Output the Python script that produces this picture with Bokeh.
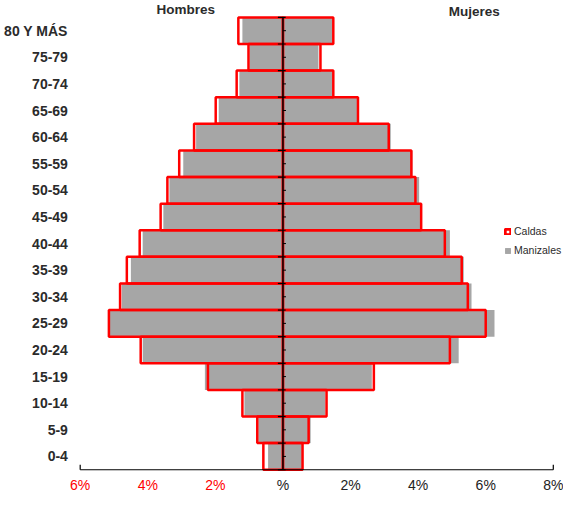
from bokeh.plotting import figure
from bokeh.models import ColumnDataSource, Range1d, Legend, LegendItem
from bokeh.core.properties import value
from bokeh.embed import file_html
from bokeh.resources import INLINE

# ---------------- data ----------------
categories = ["0-4", "5-9", "10-14", "15-19", "20-24", "25-29", "30-34", "35-39",
              "40-44", "45-49", "50-54", "55-59", "60-64", "65-69", "70-74", "75-79",
              "80 Y MÁS"]
caldas_hombres = [0.58, 0.76, 1.20, 2.22, 4.21, 5.15, 4.82, 4.62, 4.24, 3.62, 3.42,
                  3.07, 2.63, 1.99, 1.37, 1.02, 1.32]
manizales_hombres = [0.44, 0.73, 1.14, 2.31, 4.15, 5.18, 4.77, 4.50, 4.15, 3.54, 3.36,
                     2.95, 2.57, 1.90, 1.29, 0.99, 1.20]
caldas_mujeres = [0.58, 0.76, 1.29, 2.69, 4.94, 6.00, 5.47, 5.29, 4.79, 4.09, 3.92,
                  3.80, 3.13, 2.22, 1.49, 1.11, 1.49]
manizales_mujeres = [0.56, 0.82, 1.25, 2.63, 5.20, 6.26, 5.58, 5.35, 4.94, 4.11, 4.03,
                     3.83, 3.19, 2.19, 1.46, 1.05, 1.46]
x_ticks = [-6, -4, -2, 0, 2, 4, 6, 8]
x_tick_labels = ["6%", "4%", "2%", "%", "2%", "4%", "6%", "8%"]
side_titles = ["Hombres", "Mujeres"]
series_names = ["Caldas", "Manizales"]

# ---------------- layout (pixel placement) ----------------
W, H = 563, 494
SX, SY = 0.991, 0.9855          # slight squeeze so everything fits the window


def X(px):                       # reference pixel -> plot pixel (horizontal)
    return (px - 10) * SX + 2


def Y(py):                       # reference pixel -> plot pixel (vertical, from top)
    return (py - 20) * SY + 9


ZERO = X(293)                    # plot pixel of 0 %
PX = 34.1 * SX                   # pixels per 1 %
BASE = Y(487)                    # plot pixel of the bottom of the bars
UNIT = 27 * SY                   # pixels per age group


def dx(px):
    return (px - ZERO) / PX


def dy(py):
    return (BASE - py) / UNIT


GRAY = "#a6a6a6"
RED = "#ff0000"
TEXT = "#2b2b2b"
FONT_NAME = "Liberation Sans"
FONT = value(FONT_NAME)

p = figure(width=W, height=H, output_backend="svg", toolbar_location=None,
           x_range=Range1d(dx(0), dx(W)), y_range=Range1d(dy(H), dy(0)),
           x_axis_location=None, y_axis_location=None, min_border=0,
           outline_line_color=None, background_fill_color="white")
p.xgrid.grid_line_color = None
p.ygrid.grid_line_color = None

n = len(categories)
ys = [i + 0.5 for i in range(n)]
src = ColumnDataSource(dict(
    y=ys,
    cal_h=[-v for v in caldas_hombres],
    man_h=[-v for v in manizales_hombres],
    cal_m=caldas_mujeres,
    man_m=manizales_mujeres,
))

g1 = p.hbar(y="y", left="man_h", right=0, height=1, source=src,
            fill_color=GRAY, line_color=None)
g2 = p.hbar(y="y", left=0, right="man_m", height=1, source=src,
            fill_color=GRAY, line_color=None)
r1 = p.hbar(y="y", left="cal_h", right=0, height=1, source=src,
            fill_color=None, line_color=RED, line_width=2.5)
r2 = p.hbar(y="y", left=0, right="cal_m", height=1, source=src,
            fill_color=None, line_color=RED, line_width=2.5)

# central vertical axis with ticks
p.segment(x0=[0], y0=[0], x1=[0], y1=[n], line_color="black", line_width=1.5)
bounds = list(range(n + 1))
p.segment(x0=[-0.15] * len(bounds), y0=bounds, x1=[0.08] * len(bounds), y1=bounds,
          line_color="black", line_width=1.2)
p.segment(x0=[0] * n, y0=ys, x1=[0.09] * n, y1=ys, line_color="black", line_width=1)

# bottom axis
p.segment(x0=[x_ticks[0]], y0=[0], x1=[x_ticks[-1]], y1=[0], line_color="black",
          line_width=1.2)
ends = [x_ticks[0], x_ticks[-1]]
p.segment(x0=ends, y0=[0, 0], x1=ends, y1=[5 / UNIT] * 2, line_color="black",
          line_width=1.2)
tick_colors = [RED if v < 0 else "#222222" for v in x_ticks]
p.text(x=x_ticks, y=[dy(Y(503))] * len(x_ticks), text=x_tick_labels,
       text_color=tick_colors, text_align="center", text_baseline="middle",
       text_font=FONT, text_font_size="14px")

# category labels
p.text(x=[dx(X(76))] * n, y=ys, text=categories, text_align="right",
       text_baseline="middle", text_font=FONT, text_font_size="14px",
       text_font_style="bold", text_color=TEXT)

# side titles
p.text(x=[dx(X(195)), dx(X(486))], y=[dy(Y(20)), dy(Y(22))], text=side_titles,
       text_align="center", text_baseline="middle", text_font=FONT,
       text_font_size="13.5px", text_font_style="bold", text_color=TEXT)

# legend
row1 = Y(247)
leg_h = 11 + 7 + 11
legend = Legend(items=[LegendItem(label=series_names[0], renderers=[r1, r2]),
                       LegendItem(label=series_names[1], renderers=[g1, g2])],
                location=(504, H - (row1 - 5.5 + leg_h)), orientation="vertical",
                glyph_width=7, glyph_height=7, label_height=11, spacing=7,
                label_standoff=3, padding=0, margin=0,
                border_line_color=None, background_fill_alpha=0,
                label_text_font=FONT_NAME, label_text_font_size="10.5px",
                label_text_color=TEXT)
p.add_layout(legend)

open("out.html", "w").write(file_html(p, INLINE))
